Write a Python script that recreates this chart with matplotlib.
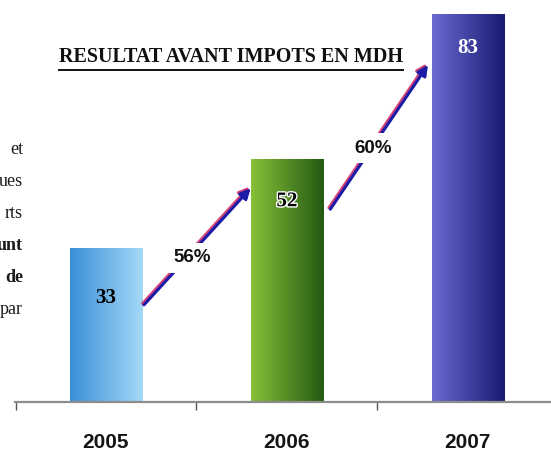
import matplotlib
matplotlib.use('Agg')
import matplotlib.pyplot as plt
import numpy as np
from matplotlib.colors import LinearSegmentedColormap
from matplotlib.lines import Line2D
import matplotlib.patheffects as pe

years = ['2005', '2006', '2007']
values = [33, 52, 83]
growth = ['56%', '60%']
title = 'RESULTAT AVANT IMPOTS EN MDH'
side_words = ['et', 'ues', 'rts', 'unt', 'de', 'par']
side_bold = [False, False, False, True, True, False]

grad = [('#3b8fd8', '#a4d8f7'), ('#86c038', '#245a12'), ('#6a6ad2', '#191a72')]
val_colors = ['black', 'black', 'white']
val_offsets = [50, 42, 34]   # px below bar top

fig = plt.figure(figsize=(5.51, 4.57), dpi=100, facecolor='white')
ax = fig.add_axes([15 / 551, 55 / 457, 536 / 551, 402 / 457])
ax.set_facecolor('none')

x = np.arange(len(years))
w = 0.4
bars = ax.bar(x, values, width=w, color='none', edgecolor='none', zorder=2)
ax.set_xlim(-0.503, 2.46)
ax.set_ylim(0, 86.1)

# gradient fill, clipped to each bar
for b, (c0, c1) in zip(bars, grad):
    cmap = LinearSegmentedColormap.from_list('g', [c0, c1])
    x0, y0 = b.get_x(), b.get_y()
    im = ax.imshow(np.linspace(0, 1, 64).reshape(1, -1), cmap=cmap, aspect='auto',
                   extent=[x0, x0 + b.get_width(), y0, y0 + b.get_height()], zorder=2)
    im.set_clip_path(b)

# value labels inside bars
for b, v, c, off in zip(bars, values, val_colors, val_offsets):
    t = ax.annotate(str(v), (b.get_x() + b.get_width() / 2, v), xytext=(0, -off * 0.72),
                    textcoords='offset points', ha='center', va='center', color=c,
                    fontsize=15, fontweight='bold', family='Liberation Serif', zorder=4)
    if c == 'black' and v == 52:
        t.set_path_effects([pe.withStroke(linewidth=2, foreground='white')])

# growth arrows between bars
starts = [(0.21, 20.8), (1.24, 41.3)]
ends = [(0.8, 45.8), (1.78, 72.2)]
for (sx, sy), (ex, ey), g in zip(starts, ends, growth):
    a = ax.annotate('', xy=(ex, ey), xytext=(sx, sy),
                    arrowprops=dict(arrowstyle='-|>', color='#1b1ba8', lw=2.2,
                                    mutation_scale=15, shrinkA=0, shrinkB=0), zorder=3)
    a.arrow_patch.set_path_effects([pe.SimpleLineShadow(offset=(-1, 1), shadow_color='#d0306a', alpha=0.9),
                                    pe.Normal()])
    mx, my = (sx + ex) / 2, (sy + ey) / 2
    ax.annotate(g, (mx, my), xytext=(-4, -8), textcoords='offset points', ha='center', va='center',
                fontsize=13.5, fontweight='bold', family='Liberation Sans',
                color='#111111', zorder=5,
                bbox=dict(boxstyle='square,pad=0.35', fc='white', ec='none'))

# axis
for s in ['top', 'right', 'left']:
    ax.spines[s].set_visible(False)
ax.spines['bottom'].set_color('#8c8c8c')
ax.spines['bottom'].set_linewidth(1.6)
ax.axhline(0.3, color='#f0c4c8', lw=0.6, zorder=1)
ax.set_yticks([])
ax.set_xticks(x)
ax.set_xticklabels(years, fontsize=15, fontweight='bold',
                   family='Liberation Sans', color='#151515')
ax.tick_params(axis='x', which='major', length=0, pad=22)
ax.set_xticks([-0.5, 0.5, 1.5], minor=True)
ax.tick_params(axis='x', which='minor', length=6, width=1, color='#555555', direction='out')

# title, underlined
t = fig.text(231 / 551, 1 - 57 / 457, title, ha='center', va='center', fontsize=14.5,
             fontweight='bold', family='Liberation Serif', color='#111111')
fig.canvas.draw()
bb = t.get_window_extent().transformed(fig.transFigure.inverted())
fig.add_artist(Line2D([bb.x0, bb.x1], [bb.y0 - 0.006, bb.y0 - 0.006], transform=fig.transFigure,
                      color='#111111', lw=1.4))

# cut-off paragraph text on the left edge
for i, (wd, bold) in enumerate(zip(side_words, side_bold)):
    fig.text(23 / 551, 1 - (149 + i * 32.2) / 457, wd, ha='right', va='center', fontsize=13,
             fontweight='bold' if bold else 'normal', family='Liberation Serif', color='#1a1a1a')

fig.savefig('out.png', dpi=100, facecolor='white')
